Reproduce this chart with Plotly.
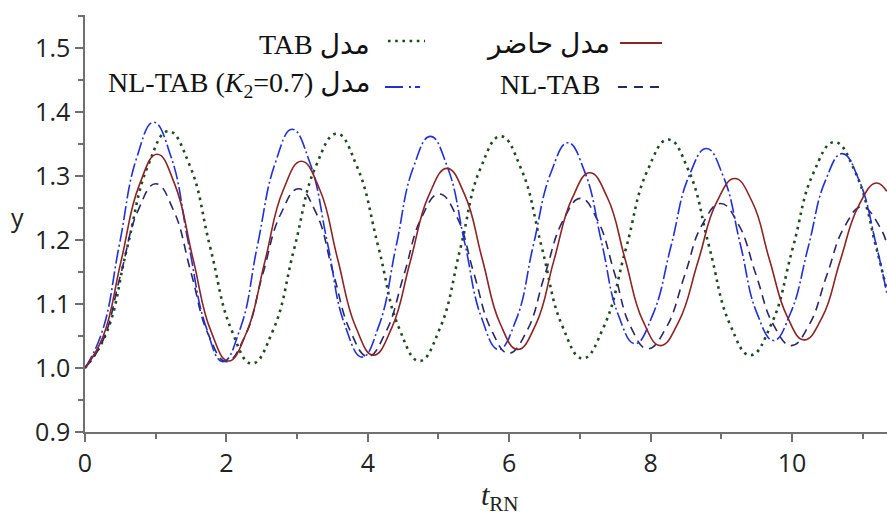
import plotly.graph_objects as go

# ---- data ----
t_present = [0, 0.255, 0.51, 0.765, 1.02, 1.27, 1.525, 1.78, 2.03, 2.29, 2.545, 2.80, 3.06, 3.32, 3.57, 3.83,
             4.08, 4.34, 4.60, 4.86, 5.12, 5.37, 5.62, 5.87, 6.12, 6.38, 6.63, 6.89, 7.14, 7.39, 7.64, 7.89,
             8.14, 8.40, 8.67, 8.93, 9.19, 9.44, 9.68, 9.93, 10.17, 10.43, 10.68, 10.94, 11.19, 11.34]
y_present = [1.000, 1.049, 1.167, 1.285, 1.334, 1.287, 1.172, 1.058, 1.011, 1.057, 1.167, 1.277, 1.323, 1.279,
             1.172, 1.064, 1.020, 1.063, 1.166, 1.269, 1.312, 1.271, 1.170, 1.070, 1.029, 1.069, 1.167, 1.265,
             1.305, 1.266, 1.170, 1.074, 1.035, 1.073, 1.166, 1.258, 1.296, 1.259, 1.170, 1.081, 1.044, 1.080,
             1.167, 1.253, 1.289, 1.276]

t_tab = [0, 0.30, 0.59, 0.89, 1.18, 1.48, 1.77, 2.07, 2.36, 2.66, 2.96, 3.26, 3.56, 3.85, 4.15, 4.44, 4.73,
         5.02, 5.31, 5.59, 5.88, 6.17, 6.46, 6.75, 7.04, 7.34, 7.65, 7.95, 8.25, 8.54, 8.83, 9.12, 9.41, 9.71,
         10.01, 10.30, 10.60, 10.90, 11.19, 11.34]
y_tab = [1.000, 1.054, 1.185, 1.316, 1.370, 1.317, 1.189, 1.060, 1.007, 1.059, 1.187, 1.314, 1.366, 1.314,
         1.189, 1.063, 1.011, 1.062, 1.187, 1.311, 1.362, 1.311, 1.189, 1.066, 1.015, 1.065, 1.186, 1.307,
         1.357, 1.308, 1.189, 1.069, 1.020, 1.069, 1.187, 1.304, 1.353, 1.305, 1.189, 1.122]

t_nltab = [0, 0.25, 0.50, 0.75, 1.00, 1.25, 1.50, 1.75, 2.00, 2.26, 2.51, 2.77, 3.02, 3.27, 3.51, 3.76, 4.00,
           4.25, 4.51, 4.76, 5.01, 5.26, 5.50, 5.75, 5.99, 6.25, 6.50, 6.76, 7.01, 7.25, 7.49, 7.72, 7.96,
           8.22, 8.48, 8.73, 8.99, 9.24, 9.49, 9.74, 9.99, 10.24, 10.49, 10.74, 10.99, 11.24, 11.34]
y_nltab = [1.000, 1.042, 1.144, 1.246, 1.288, 1.247, 1.149, 1.051, 1.010, 1.049, 1.145, 1.241, 1.280, 1.242,
           1.149, 1.056, 1.018, 1.055, 1.145, 1.235, 1.272, 1.236, 1.148, 1.059, 1.023, 1.058, 1.144, 1.230,
           1.265, 1.231, 1.148, 1.064, 1.030, 1.063, 1.144, 1.224, 1.257, 1.225, 1.146, 1.067, 1.035, 1.067,
           1.144, 1.220, 1.252, 1.221, 1.194]

t_nltab_k2 = [0, 0.24, 0.485, 0.73, 0.97, 1.22, 1.46, 1.71, 1.95, 2.20, 2.44, 2.69, 2.93, 3.18, 3.43, 3.67,
              3.92, 4.16, 4.40, 4.64, 4.885, 5.13, 5.37, 5.61, 5.85, 6.10, 6.34, 6.59, 6.83, 7.07, 7.31, 7.54,
              7.78, 8.03, 8.29, 8.54, 8.79, 9.03, 9.27, 9.50, 9.74, 9.98, 10.23, 10.47, 10.71, 10.95, 11.19, 11.34]
y_nltab_k2 = [1.000, 1.056, 1.192, 1.328, 1.384, 1.329, 1.197, 1.065, 1.010, 1.063, 1.192, 1.320, 1.373, 1.321,
              1.195, 1.069, 1.017, 1.067, 1.190, 1.312, 1.362, 1.313, 1.196, 1.078, 1.029, 1.076, 1.191, 1.305,
              1.352, 1.306, 1.195, 1.084, 1.038, 1.083, 1.191, 1.299, 1.343, 1.299, 1.193, 1.087, 1.043, 1.086,
              1.189, 1.292, 1.335, 1.293, 1.193, 1.118]

x_tickvals = [0, 2, 4, 6, 8, 10]
y_tickvals = [0.9, 1.0, 1.1, 1.2, 1.3, 1.4, 1.5]

C_RED = "#8b2424"
C_GREEN = "#1f4a1f"
C_NAVY = "#28286a"
C_BLUE = "#2230d8"
AX = "#707070"
SM = 1.3

fig = go.Figure()
fig.add_trace(go.Scatter(x=t_tab, y=y_tab, mode="lines",
                         line=dict(color=C_GREEN, width=2.6, dash="2.6px,4.6px", shape="spline", smoothing=SM)))
fig.add_trace(go.Scatter(x=t_nltab, y=y_nltab, mode="lines",
                         line=dict(color=C_NAVY, width=1.6, dash="9px,6px", shape="spline", smoothing=SM)))
fig.add_trace(go.Scatter(x=t_nltab_k2, y=y_nltab_k2, mode="lines",
                         line=dict(color=C_BLUE, width=1.6, dash="14px,3px,2px,3px", shape="spline", smoothing=SM)))
fig.add_trace(go.Scatter(x=t_present, y=y_present, mode="lines",
                         line=dict(color=C_RED, width=1.6, shape="spline", smoothing=SM)))

W, H = 887, 519
ML, MR, MT, MB = 85, 0, 15, 87
PW, PH = W - ML - MR, H - MT - MB


def px(X):
    return (X - ML) / PW


def py(Y):
    return (H - MB - Y) / PH


TICKFONT = dict(family="Open Sans", size=25, color="#222")
fig.update_layout(
    width=W, height=H, margin=dict(l=ML, r=MR, t=MT, b=MB),
    plot_bgcolor="white", paper_bgcolor="white", showlegend=False,
    xaxis=dict(range=[0, 11.344], tickvals=x_tickvals, ticks="outside", ticklen=8, tickwidth=1.5,
               tickcolor=AX, showline=True, linecolor=AX, linewidth=1.5, showgrid=False, zeroline=False,
               tickfont=TICKFONT,
               minor=dict(dtick=1, tick0=0, ticks="outside", ticklen=5, tickwidth=1.5, tickcolor=AX)),
    yaxis=dict(range=[0.9, 1.5516], tickvals=y_tickvals, tickformat=".1f", ticks="outside", ticklen=8,
               tickwidth=1.5, tickcolor=AX, showline=True, linecolor=AX, linewidth=1.5, showgrid=False,
               zeroline=False, tickfont=TICKFONT,
               minor=dict(dtick=0.05, tick0=0.9, ticks="outside", ticklen=5, tickwidth=1.5, tickcolor=AX)),
)

LEGFONT = dict(family="Liberation Serif, DejaVu Serif, DejaVu Sans", size=28, color="#111")
annots = [
    ("مدل حاضر", 612, 44),
    ("TAB مدل", 372, 44),
    ("NL-TAB", 602, 85),
    ("NL-TAB (<i>K</i><sub>2</sub>=0.7) مدل", 372, 85),
]
for txt, xr, yc in annots:
    fig.add_annotation(text=txt, xref="paper", yref="paper", x=px(xr), y=py(yc), xanchor="right",
                       yanchor="middle", showarrow=False, font=LEGFONT)

# legend samples
samples = [
    (620, 662, 43, C_RED, None, 1.8),
    (388, 425, 41, C_GREEN, "2.6px,4.6px", 2.6),
    (618, 662, 87, C_NAVY, "9px,7px", 1.8),
    (385, 420, 87, C_BLUE, "18px,6px,2px,4px", 1.8),
]
for x0, x1, yy, col, dash, w in samples:
    ln = dict(color=col, width=w)
    if dash:
        ln["dash"] = dash
    fig.add_shape(type="line", xref="paper", yref="paper", x0=px(x0), x1=px(x1), y0=py(yy), y1=py(yy), line=ln)

# axis titles
fig.add_annotation(text="y", xref="paper", yref="paper", x=px(17), y=py(217), xanchor="center", yanchor="middle",
                   showarrow=False, font=dict(family="Open Sans", size=25, color="#222"))
fig.add_annotation(text="<i>t</i><sub>RN</sub>", xref="paper", yref="paper", x=px(500), y=py(497),
                   xanchor="center", yanchor="middle", showarrow=False,
                   font=dict(family="Liberation Serif", size=30, color="#222"))

fig.write_html("out.html", config={"displayModeBar": False},
               post_script="document.body.style.margin='0';document.body.style.overflow='hidden';")
